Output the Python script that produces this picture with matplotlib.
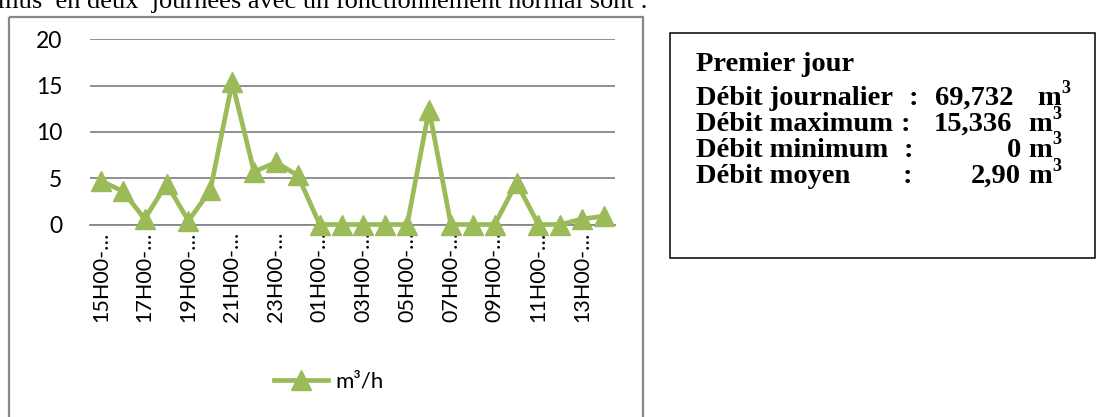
import matplotlib
matplotlib.use("Agg")
import matplotlib.pyplot as plt
from matplotlib.patches import Rectangle

# ---------------- data ----------------
hours = ["15H00", "16H00", "17H00", "18H00", "19H00", "20H00", "21H00", "22H00",
         "23H00", "00H00", "01H00", "02H00", "03H00", "04H00", "05H00", "06H00",
         "07H00", "08H00", "09H00", "10H00", "11H00", "12H00", "13H00", "14H00"]
debit = [4.7, 3.6, 0.6, 4.4, 0.4, 3.7, 15.336, 5.7, 6.7, 5.3, 0.0, 0.0,
         0.0, 0.0, 0.0, 12.4, 0.0, 0.0, 0.0, 4.5, 0.0, 0.0, 0.6, 0.9]
tick_labels = [h + "-\u2026" if i % 2 == 0 else "" for i, h in enumerate(hours)]
yticks = [0, 5, 10, 15, 20]
series_name = "m\u00b3/h"

box_title = "Premier jour"
box_labels = ["D\u00e9bit journalier", "D\u00e9bit maximum", "D\u00e9bit minimum", "D\u00e9bit moyen"]
box_numbers = ["69,732", "15,336", "0", "2,90"]
box_unit = "m"
box_sup = "3"
top_text = "mus  en deux  journ\u00e9es avec un fonctionnement normal sont :"

# ---------------- figure ----------------
W, H = 1097, 417
fig = plt.figure(figsize=(W / 100, H / 100), dpi=100)
fig.patch.set_facecolor("white")

# overlay in pixel coordinates
ov = fig.add_axes([0, 0, 1, 1])
ov.set_xlim(0, W)
ov.set_ylim(H, 0)
ov.axis("off")
ov.set_zorder(0)

# chart outer frame
ov.add_patch(Rectangle((8.5, 17), 634.5, 420, fill=False, edgecolor="#878787", lw=1.6))
# text box frame
ov.add_patch(Rectangle((670, 33), 425, 224.5, fill=False, edgecolor="black", lw=1.1))

# top (cut) paragraph text
ov.text(-2, 7.5, top_text, fontsize=19, family="Liberation Serif", va="baseline", ha="left")

# ---------------- chart ----------------
def fx(px):
    return px / W

def fy(py):
    return 1 - py / H

ax = fig.add_axes([fx(90), fy(224.5), fx(615) - fx(90), fy(39.3) - fy(224.5)])
ax.set_zorder(2)
ax.patch.set_alpha(0)
green = "#9BBB59"
x = list(range(len(hours)))
line, = ax.plot(x, debit, color=green, lw=3.4, marker="^", markersize=14,
                markerfacecolor=green, markeredgecolor=green, markeredgewidth=1.0,
                label=series_name, clip_on=False, zorder=3)
ax.set_xlim(-0.5, len(hours) - 0.5)
ax.set_ylim(0, 20)
ax.set_yticks(yticks)
ax.set_yticklabels([str(v) for v in yticks], family="Lato", fontsize=16.5)
ax.set_xticks(x)
ax.set_xticklabels(tick_labels, rotation=90, family="Lato", fontsize=15.5)
ax.tick_params(axis="x", length=0, pad=5)
ax.tick_params(axis="y", length=0, pad=20)
for s in ["top", "right", "left"]:
    ax.spines[s].set_visible(False)
ax.spines["bottom"].set_color("#878787")
ax.spines["bottom"].set_linewidth(1.3)
ax.yaxis.grid(True, color="#878787", lw=1.3)
ax.set_axisbelow(True)

leg = ax.legend(handles=[line], loc="center left",
                bbox_to_anchor=(fx(274), fy(382)), bbox_transform=fig.transFigure,
                frameon=False, borderpad=0, borderaxespad=0, handlelength=2.45,
                handletextpad=0.3, numpoints=1,
                prop={"family": "Lato", "size": 16})

# ---------------- text box ----------------
fs = 20.5
bold = dict(family="Liberation Serif", weight="bold", fontsize=fs, va="baseline")
ov.text(696, 70.5, box_title, ha="left", **bold)
baselines = [105, 131, 157, 183]
colon_x = [913, 905, 908, 907]
num_right = [1013, 1012, 1021, 1021]
unit_left = [1037, 1028, 1028, 1028]
units = []
for i, (lab, num) in enumerate(zip(box_labels, box_numbers)):
    yb = baselines[i]
    ov.text(696, yb, lab, ha="left", **bold)
    ov.text(colon_x[i], yb, ":", ha="center", **bold)
    ov.text(num_right[i], yb, num, ha="right", **bold)
    units.append(ov.text(unit_left[i], yb, box_unit, ha="left", **bold))

renderer = fig.canvas.get_renderer()
inv = ov.transData.inverted()
for i, t in enumerate(units):
    bb = t.get_window_extent(renderer)
    x1 = inv.transform((bb.x1, bb.y0))[0]
    ov.text(x1 + 0.5, baselines[i] - 12.5, box_sup, ha="left", va="baseline",
            family="Liberation Serif", weight="bold", fontsize=13)

fig.savefig("out.png", dpi=100, facecolor="white")
